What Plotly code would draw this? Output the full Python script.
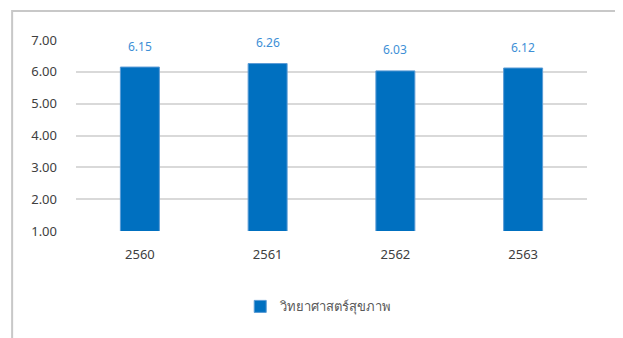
import plotly.graph_objects as go

years = ["2560", "2561", "2562", "2563"]
values = [6.15, 6.26, 6.03, 6.12]
series_name = "วิทยาศาสตร์สุขภาพ"
y_ticks = [1, 2, 3, 4, 5, 6, 7]

FONT = "Noto Sans, DejaVu Sans, sans-serif"

fig = go.Figure()
fig.add_trace(go.Bar(
    x=years, y=values, name=series_name,
    marker=dict(color="#0070C0", line=dict(color="#5B9BD5", width=1)),
    showlegend=True,
))
for i, v in enumerate(values):
    fig.add_annotation(x=i, y=v, text=f"{v:.2f}", showarrow=False,
                       yshift=21, font=dict(family=FONT, size=12, color="#3E8FD6"))

fig.add_shape(type="rect", xref="paper", yref="paper",
              x0=-0.125, x1=1.057, y0=-0.7, y1=1.152,
              line=dict(color="#C8C8C8", width=2), layer="above")

fig.update_layout(
    width=615, height=330,
    margin=dict(l=68, r=36, t=32, b=107),
    paper_bgcolor="white", plot_bgcolor="white",
    bargap=0.695,
    font=dict(family=FONT, color="#595959", size=13),
    xaxis=dict(type="category", range=[-0.5, len(years) - 0.5], showgrid=False,
               showline=False, ticks="",
               tickfont=dict(size=13, color="#404040"), ticklabelstandoff=14),
    yaxis=dict(range=[1, 7], tickvals=y_ticks, tickformat=".2f",
               showgrid=True, gridcolor="#D9D9D9", gridwidth=1.5, zeroline=False,
               showline=False, ticks="", tickfont=dict(size=13, color="#404040"),
               ticklabelstandoff=18),
    legend=dict(orientation="h", x=0.475, xanchor="center", y=-0.395, yanchor="middle",
                font=dict(size=13, color="#595959"), itemwidth=30),
)

fig.write_html("out.html")
